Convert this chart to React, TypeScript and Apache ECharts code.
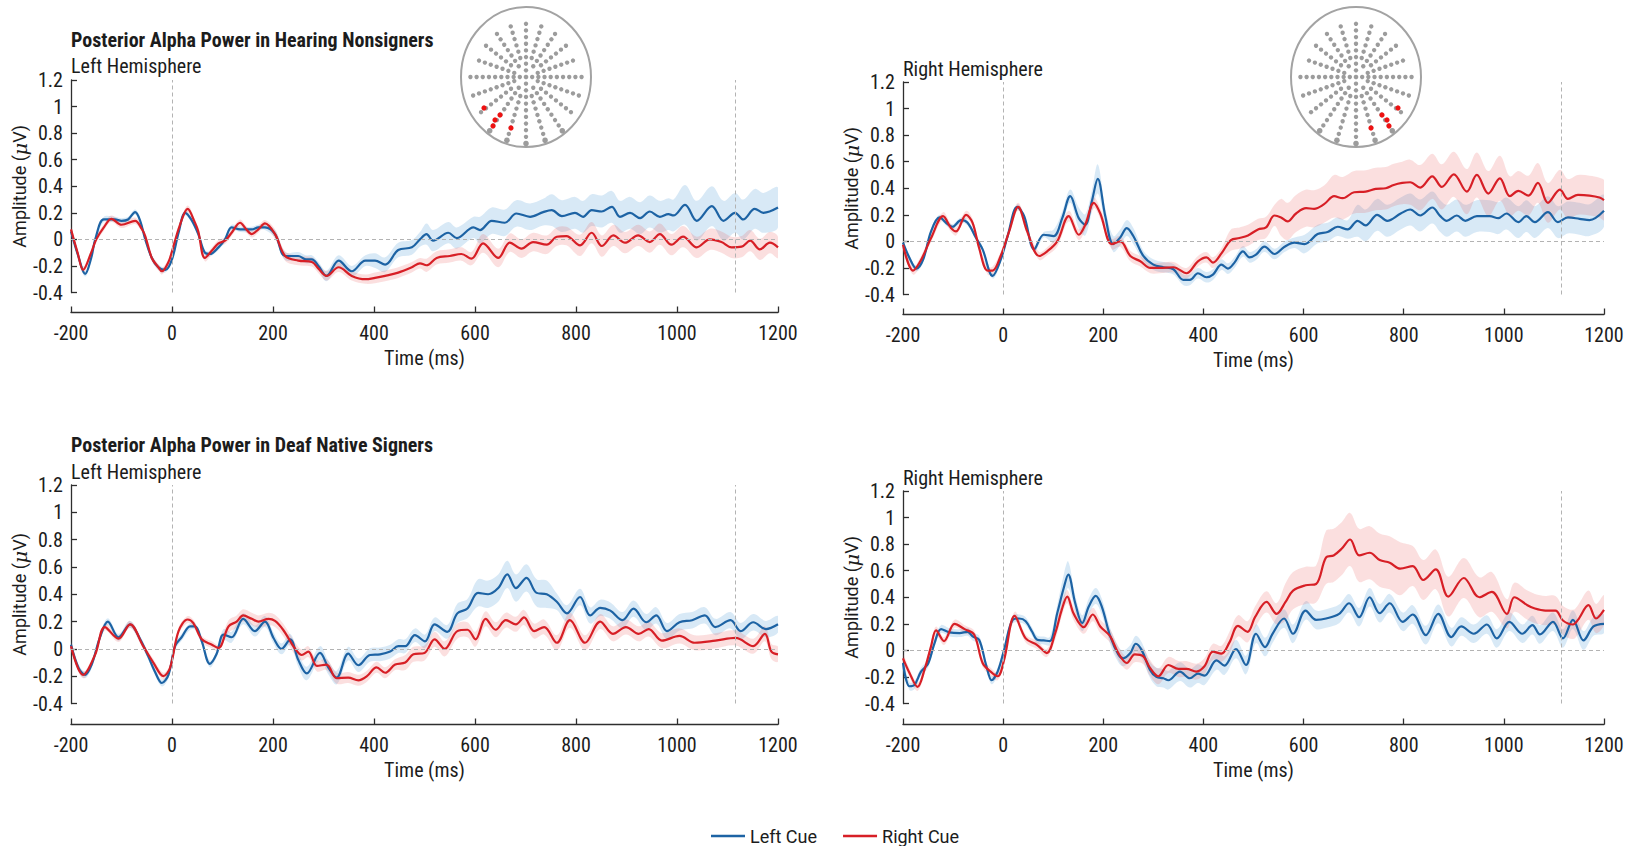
import React, { useEffect, useRef } from "react";
import * as echarts from "echarts";

type P = [number, number];

// ---------- axis settings ----------
const X_MIN = -200;
const X_MAX = 1200;
const X_STEP = 200;
const Y_MIN = -0.4;
const Y_MAX = 1.2;
const Y_STEP = 0.2;
const MARKER_TIMES = [0, 1115];
const SERIES_NAMES = ["Left Cue", "Right Cue"];

// ---------- Hearing nonsigners, left hemisphere ----------
const hearingLH_leftCue: P[] = [
  [-200, 0.06], [-186, -0.12], [-172, -0.26], [-160, -0.14], [-152, 0], [-135, 0.15], [-113, 0.15], [-100, 0.14],
  [-87, 0.15], [-73, 0.205], [-63, 0.14], [-53, 0], [-40, -0.14], [-27, -0.21], [-13, -0.23], [0, -0.15],
  [13, 0.05], [26, 0.2], [38, 0.15], [52, 0.04], [65, -0.1], [75, -0.11], [92, -0.06], [105, 0],
  [118, 0.09], [135, 0.075], [158, 0.075], [171, 0.09], [184, 0.09], [204, 0.04], [224, -0.125], [250, -0.125],
  [265, -0.15], [277, -0.15], [290, -0.2], [306, -0.275], [330, -0.16], [356, -0.24], [383, -0.16], [402, -0.16],
  [422, -0.19], [448, -0.08], [475, -0.06], [491, 0], [504, 0.04], [517, -0.01], [547, 0.05], [564, 0.01],
  [597, 0.09], [610, 0.07], [633, 0.14], [659, 0.125], [682, 0.195], [709, 0.17], [735, 0.205], [752, 0.22],
  [772, 0.175], [798, 0.2], [814, 0.17], [831, 0.22], [851, 0.21], [871, 0.245], [887, 0.17], [907, 0.2],
  [927, 0.16], [946, 0.21], [966, 0.17], [983, 0.19], [993, 0.18], [1016, 0.26], [1039, 0.14], [1069, 0.25],
  [1092, 0.14], [1115, 0.2], [1131, 0.15], [1154, 0.23], [1171, 0.2], [1200, 0.24],
];
const hearingLH_rightCue: P[] = [
  [-200, 0.075], [-187, -0.1], [-176, -0.23], [-160, -0.1], [-150, 0], [-135, 0.09], [-120, 0.155], [-100, 0.11],
  [-73, 0.14], [-60, 0.08], [-53, 0.025], [-40, -0.14], [-27, -0.21], [-20, -0.24], [-7, -0.17], [0, -0.09],
  [15, 0.1], [31, 0.23], [45, 0.13], [52, 0.06], [65, -0.14], [80, -0.08], [92, -0.03], [105, -0.01],
  [118, 0.05], [135, 0.125], [146, 0.08], [158, 0.04], [171, 0.075], [184, 0.12], [204, 0.04], [224, -0.125],
  [250, -0.16], [277, -0.17], [290, -0.22], [306, -0.275], [330, -0.21], [356, -0.275], [383, -0.3], [402, -0.29],
  [422, -0.275], [448, -0.25], [475, -0.21], [491, -0.18], [504, -0.195], [524, -0.14], [550, -0.125], [573, -0.11],
  [593, -0.145], [616, -0.03], [646, -0.14], [669, -0.025], [692, -0.07], [715, -0.02], [742, -0.04], [762, 0.02],
  [781, 0.025], [808, -0.045], [831, 0.05], [851, -0.05], [874, 0.03], [897, -0.025], [923, 0.03], [946, -0.02],
  [966, 0.04], [989, -0.04], [1012, 0.02], [1039, -0.06], [1065, 0], [1088, -0.02], [1108, -0.06], [1128, -0.055],
  [1145, -0.01], [1164, -0.075], [1184, -0.025], [1200, -0.06],
];
// half-width of the shaded band: [from time, half-width]
const hearingLH_leftCueSE: P[] = [[-200, 0.02], [200, 0.03], [300, 0.04], [400, 0.055], [500, 0.08], [600, 0.1], [750, 0.12], [1000, 0.15]];
const hearingLH_rightCueSE: P[] = [[-200, 0.025], [200, 0.035], [400, 0.04], [500, 0.05], [600, 0.07], [800, 0.08]];

// ---------- Hearing nonsigners, right hemisphere ----------
const hearingRH_leftCue: P[] = [
  [-200, -0.01], [-187, -0.125], [-173, -0.205], [-160, -0.14], [-144, 0.075], [-127, 0.18], [-111, 0.13], [-101, 0.11],
  [-84, 0.16], [-71, 0.14], [-54, 0.025], [-41, -0.06], [-21, -0.26], [-5, -0.14], [9, 0.04], [28, 0.26],
  [42, 0.19], [62, -0.06], [81, 0.05], [101, 0.04], [118, 0.175], [134, 0.34], [151, 0.175], [164, 0.125],
  [177, 0.3], [189, 0.47], [204, 0.19], [220, -0.02], [234, 0.03], [247, 0.1], [260, 0.04], [280, -0.11],
  [300, -0.175], [320, -0.195], [340, -0.21], [360, -0.29], [373, -0.29], [389, -0.24], [406, -0.27], [419, -0.25],
  [436, -0.175], [449, -0.205], [462, -0.16], [479, -0.075], [492, -0.12], [505, -0.1], [522, -0.04], [542, -0.095],
  [562, -0.04], [582, -0.01], [602, -0.02], [628, 0.055], [648, 0.07], [668, 0.11], [688, 0.09], [708, 0.155],
  [724, 0.12], [747, 0.2], [767, 0.155], [794, 0.21], [813, 0.24], [833, 0.195], [857, 0.255], [873, 0.19],
  [886, 0.155], [906, 0.195], [923, 0.155], [946, 0.19], [972, 0.19], [989, 0.175], [1005, 0.21], [1029, 0.145],
  [1045, 0.19], [1062, 0.145], [1088, 0.22], [1108, 0.145], [1128, 0.18], [1151, 0.17], [1171, 0.16], [1200, 0.23],
];
const hearingRH_rightCue: P[] = [
  [-200, -0.025], [-180, -0.22], [-164, -0.14], [-144, 0.025], [-120, 0.19], [-104, 0.1], [-94, 0.075], [-74, 0.2],
  [-61, 0.14], [-48, -0.05], [-31, -0.22], [-21, -0.22], [-5, -0.11], [12, 0.075], [30, 0.26], [48, 0.075],
  [72, -0.11], [88, -0.075], [108, 0], [131, 0.19], [151, 0.05], [164, 0.125], [181, 0.29], [194, 0.21],
  [217, -0.02], [234, 0], [254, -0.11], [274, -0.15], [294, -0.2], [313, -0.2], [340, -0.195], [366, -0.24],
  [389, -0.15], [406, -0.12], [419, -0.16], [436, -0.09], [455, 0.01], [472, 0.025], [489, 0.045], [509, 0.09],
  [525, 0.105], [542, 0.195], [555, 0.18], [568, 0.15], [585, 0.21], [605, 0.25], [621, 0.245], [641, 0.28],
  [661, 0.34], [678, 0.325], [701, 0.37], [724, 0.375], [744, 0.395], [764, 0.4], [780, 0.425], [797, 0.44],
  [813, 0.445], [833, 0.405], [857, 0.49], [876, 0.41], [900, 0.505], [926, 0.375], [946, 0.5], [969, 0.36],
  [992, 0.475], [1012, 0.34], [1029, 0.38], [1049, 0.345], [1068, 0.44], [1088, 0.29], [1112, 0.39], [1128, 0.32],
  [1148, 0.35], [1171, 0.345], [1191, 0.33], [1200, 0.31],
];
const hearingRH_leftCueSE: P[] = [[-200, 0.02], [100, 0.05], [150, 0.08], [180, 0.11], [200, 0.06], [280, 0.04], [600, 0.07], [700, 0.12]];
const hearingRH_rightCueSE: P[] = [[-200, 0.03], [100, 0.04], [450, 0.08], [550, 0.14], [650, 0.16], [800, 0.17], [1000, 0.15]];

// ---------- Deaf native signers, left hemisphere ----------
const deafLH_leftCue: P[] = [
  [-200, 0.03], [-185, -0.14], [-172, -0.19], [-159, -0.115], [-143, 0.08], [-127, 0.2], [-106, 0.085], [-83, 0.18],
  [-63, 0.07], [-47, -0.055], [-34, -0.165], [-20, -0.25], [-7, -0.19], [6, 0.02], [19, 0.085], [36, 0.165],
  [46, 0.165], [59, 0.055], [75, -0.11], [88, -0.04], [102, 0.105], [118, 0.085], [141, 0.22], [164, 0.13],
  [184, 0.2], [201, 0.08], [217, 0], [234, 0.07], [250, -0.08], [267, -0.18], [293, -0.03], [310, -0.14],
  [326, -0.21], [349, -0.035], [369, -0.12], [392, -0.045], [412, -0.04], [432, -0.02], [448, 0.02], [462, 0.02],
  [481, 0.1], [501, 0.055], [520, 0.18], [545, 0.125], [565, 0.26], [585, 0.295], [606, 0.41], [626, 0.4],
  [646, 0.445], [664, 0.545], [681, 0.445], [702, 0.52], [722, 0.41], [742, 0.4], [762, 0.345], [782, 0.26],
  [808, 0.38], [828, 0.245], [848, 0.3], [868, 0.28], [892, 0.21], [914, 0.295], [939, 0.195], [959, 0.245],
  [980, 0.13], [1005, 0.195], [1030, 0.21], [1055, 0.245], [1076, 0.16], [1106, 0.21], [1126, 0.13], [1151, 0.195],
  [1176, 0.145], [1200, 0.18],
];
const deafLH_rightCue: P[] = [
  [-200, 0.02], [-176, -0.19], [-152, -0.04], [-133, 0.16], [-106, 0.075], [-83, 0.18], [-57, 0.02], [-37, -0.1],
  [-17, -0.2], [-4, -0.14], [13, 0.13], [31, 0.215], [42, 0.19], [59, 0.07], [79, 0.03], [92, 0.007],
  [112, 0.165], [128, 0.2], [141, 0.245], [158, 0.22], [171, 0.2], [191, 0.22], [204, 0.205], [220, 0.14],
  [244, 0], [257, -0.045], [270, -0.02], [287, -0.125], [306, -0.115], [326, -0.215], [349, -0.21], [369, -0.23],
  [386, -0.2], [405, -0.135], [422, -0.175], [442, -0.115], [462, -0.1], [478, -0.04], [500, -0.03], [520, 0.07],
  [540, 0], [565, 0.13], [585, 0.14], [601, 0.07], [621, 0.22], [641, 0.14], [661, 0.21], [681, 0.18],
  [697, 0.23], [717, 0.13], [737, 0.16], [762, 0.045], [788, 0.21], [818, 0.045], [848, 0.2], [873, 0.11],
  [899, 0.16], [924, 0.11], [944, 0.145], [970, 0.06], [1005, 0.095], [1035, 0.045], [1076, 0.06], [1116, 0.08],
  [1151, 0.02], [1174, 0.11], [1187, -0.02], [1200, -0.04],
];
const deafLH_leftCueSE: P[] = [[-200, 0.025], [100, 0.04], [250, 0.05], [550, 0.07], [600, 0.1], [760, 0.06]];
const deafLH_rightCueSE: P[] = [[-200, 0.025], [100, 0.045], [250, 0.04], [450, 0.055]];

// ---------- Deaf native signers, right hemisphere ----------
const deafRH_leftCue: P[] = [
  [-200, -0.095], [-187, -0.27], [-177, -0.26], [-164, -0.16], [-150, -0.1], [-137, 0.055], [-124, 0.16], [-107, 0.135],
  [-87, 0.13], [-71, 0.14], [-61, 0.105], [-48, 0.08], [-34, -0.11], [-23, -0.225], [-11, -0.16], [2, 0.005],
  [19, 0.23], [32, 0.24], [45, 0.22], [58, 0.14], [68, 0.08], [81, 0.075], [93, 0.07], [108, 0.28],
  [121, 0.47], [130, 0.57], [144, 0.355], [158, 0.205], [171, 0.33], [185, 0.41], [197, 0.33], [214, 0.105],
  [230, -0.03], [240, -0.06], [254, -0.02], [265, 0.05], [277, 0], [293, -0.145], [306, -0.2], [320, -0.21],
  [330, -0.225], [353, -0.16], [373, -0.21], [389, -0.175], [402, -0.19], [426, -0.075], [442, -0.115], [465, 0.01],
  [485, -0.11], [505, 0.125], [523, 0.025], [538, 0.125], [561, 0.24], [579, 0.125], [604, 0.3], [625, 0.23],
  [645, 0.24], [671, 0.275], [691, 0.355], [711, 0.25], [732, 0.4], [752, 0.28], [772, 0.355], [798, 0.215],
  [818, 0.27], [844, 0.115], [869, 0.275], [895, 0.1], [915, 0.18], [940, 0.125], [966, 0.195], [986, 0.09],
  [1011, 0.215], [1037, 0.125], [1057, 0.19], [1072, 0.12], [1098, 0.215], [1118, 0.09], [1138, 0.23], [1159, 0.075],
  [1179, 0.18], [1200, 0.2],
];
const deafRH_rightCue: P[] = [
  [-200, -0.06], [-187, -0.17], [-171, -0.275], [-157, -0.145], [-144, 0.03], [-134, 0.15], [-118, 0.07], [-97, 0.2],
  [-77, 0.16], [-58, 0.12], [-41, -0.095], [-25, -0.16], [-11, -0.195], [2, -0.07], [23, 0.26], [45, 0.09],
  [68, 0.04], [87, -0.02], [104, 0.13], [117, 0.305], [128, 0.405], [141, 0.275], [161, 0.175], [179, 0.27],
  [194, 0.18], [214, 0.105], [230, -0.02], [247, -0.095], [263, -0.03], [280, -0.045], [293, -0.13], [310, -0.195],
  [330, -0.11], [350, -0.14], [366, -0.14], [386, -0.16], [402, -0.12], [419, -0.01], [436, -0.025], [452, 0.06],
  [469, 0.185], [488, 0.14], [503, 0.25], [526, 0.365], [546, 0.275], [564, 0.365], [579, 0.45], [604, 0.49],
  [625, 0.5], [645, 0.7], [660, 0.715], [676, 0.765], [693, 0.835], [711, 0.715], [732, 0.735], [752, 0.68],
  [772, 0.66], [793, 0.615], [818, 0.635], [839, 0.53], [864, 0.61], [889, 0.405], [920, 0.545], [951, 0.4],
  [976, 0.44], [1006, 0.275], [1021, 0.4], [1047, 0.34], [1062, 0.315], [1083, 0.3], [1103, 0.3], [1118, 0.225],
  [1138, 0.195], [1148, 0.23], [1169, 0.34], [1184, 0.24], [1200, 0.305],
];
const deafRH_leftCueSE: P[] = [[-200, 0.03], [100, 0.06], [120, 0.1], [140, 0.06], [300, 0.07]];
const deafRH_rightCueSE: P[] = [[-200, 0.03], [100, 0.05], [250, 0.06], [450, 0.08], [550, 0.14], [640, 0.2], [800, 0.15], [1000, 0.11]];

// ---------- styles ----------
const BLUE = "#1d63a4";
const RED = "#d71f26";
const BLUE_BAND = "rgba(60,145,210,0.2)";
const RED_BAND = "rgba(235,80,80,0.18)";
const COND = "'Roboto Condensed', 'Liberation Sans Narrow', 'DejaVu Sans Condensed', 'Arial Narrow', Roboto, sans-serif";
const SANS = "Roboto, 'Noto Sans', 'Liberation Sans', sans-serif";
const TEXT = "#1c1c1c";
const AXIS = "#2e2e2e";
const FS = 20;

const panels = [
  { grid: { left: 71, top: 80, width: 707, height: 212.5 }, xOffset: 20, left: hearingLH_leftCue, leftSE: hearingLH_leftCueSE, right: hearingLH_rightCue, rightSE: hearingLH_rightCueSE },
  { grid: { left: 903, top: 82, width: 701, height: 212.5 }, xOffset: 20, left: hearingRH_leftCue, leftSE: hearingRH_leftCueSE, right: hearingRH_rightCue, rightSE: hearingRH_rightCueSE },
  { grid: { left: 71, top: 485, width: 707, height: 218.5 }, xOffset: 21, left: deafLH_leftCue, leftSE: deafLH_leftCueSE, right: deafLH_rightCue, rightSE: deafLH_rightCueSE },
  { grid: { left: 903, top: 491, width: 701, height: 212.5 }, xOffset: 21, left: deafRH_leftCue, leftSE: deafRH_leftCueSE, right: deafRH_rightCue, rightSE: deafRH_rightCueSE },
];

const texts = [
  { x: 71, y: 40, text: "Posterior Alpha Power in Hearing Nonsigners", bold: true },
  { x: 71, y: 65.5, text: "Left Hemisphere", bold: false },
  { x: 903, y: 69, text: "Right Hemisphere", bold: false },
  { x: 71, y: 444.5, text: "Posterior Alpha Power in Deaf Native Signers", bold: true },
  { x: 71, y: 471.5, text: "Left Hemisphere", bold: false },
  { x: 903, y: 478, text: "Right Hemisphere", bold: false },
];

// highlighted electrodes (offsets within the head icon), left hemisphere
const redElectrodesLH: P[] = [[-42, 31], [-26, 38], [-31, 43], [-33, 49], [-15, 51]];

function seAt(steps: P[], t: number) {
  let w = steps[0][1];
  for (const [s, v] of steps) if (t >= s) w = v;
  return w;
}

function bandSeries(idx: number, mean: P[], steps: P[], color: string) {
  const upper = mean.map(([t, v]) => [t, v + seAt(steps, t)]);
  const lower = mean.map(([t, v]) => [t, v - seAt(steps, t)]);
  const ring = upper.concat(lower.slice().reverse());
  return {
    type: "custom",
    xAxisIndex: idx,
    yAxisIndex: idx,
    silent: true,
    z: 1,
    clip: true,
    data: [mean[0]],
    renderItem: (_p: any, api: any) => ({
      type: "polygon",
      shape: { points: ring.map((p) => api.coord(p)), smooth: 0.35 },
      style: { fill: color, stroke: "none" },
    }),
  };
}

function headIcon(cx: number, cy: number, mirror: boolean) {
  const rx = 65;
  const ry = 70;
  const els: any[] = [];
  els.push({ type: "ellipse", shape: { cx, cy, rx, ry }, style: { fill: "transparent", stroke: "#a3a3a3", lineWidth: 2 }, z: 20 });
  const dot = (x: number, y: number, r: number, c: string) =>
    els.push({ type: "circle", shape: { cx: x, cy: y, r }, style: { fill: c }, z: 21 });
  dot(cx, cy, 2.3, "#9c9c9c");
  for (let s = 0; s < 20; s++) {
    const deg = s * 18;
    const a = (deg * Math.PI) / 180;
    const dx = Math.sin(a);
    const dy = -Math.cos(a);
    const start = s % 5 === 0 ? 1 : s % 2 === 0 ? 2 : 3;
    let end = 8;
    if (deg >= 144 && deg <= 216) end = 10;
    else if (deg >= 90 && deg <= 270) end = 9;
    for (let k = start; k <= end; k++) {
      const r = Math.min(k * 0.095, 0.985);
      const big = k === 10;
      dot(cx + dx * r * rx, cy + dy * r * ry, big ? 2.8 : 2.2, "#9c9c9c");
    }
  }
  for (const [ox, oy] of redElectrodesLH) dot(cx + (mirror ? -ox : ox), cy + oy, 2.6, "#ee1111");
  return els;
}

function buildOption() {
  const grid: any[] = [];
  const xAxis: any[] = [];
  const yAxis: any[] = [];
  const series: any[] = [];
  panels.forEach((p, i) => {
    grid.push({ ...p.grid, containLabel: false });
    xAxis.push({
      gridIndex: i,
      type: "value",
      min: X_MIN,
      max: X_MAX,
      interval: X_STEP,
      offset: p.xOffset,
      axisLine: { show: true, onZero: false, lineStyle: { color: AXIS, width: 1.3 } },
      axisTick: { show: true, inside: true, length: 6, lineStyle: { color: AXIS, width: 1.3 } },
      axisLabel: { margin: 10, fontSize: FS, fontFamily: COND, color: TEXT, formatter: (v: number) => String(v) },
      splitLine: { show: false },
      name: "Time (ms)",
      nameLocation: "middle",
      nameGap: 35,
      nameTextStyle: { fontSize: FS, fontFamily: COND, color: TEXT },
    });
    yAxis.push({
      gridIndex: i,
      type: "value",
      min: Y_MIN,
      max: Y_MAX,
      interval: Y_STEP,
      axisLine: { show: true, onZero: false, lineStyle: { color: AXIS, width: 1.3 } },
      axisTick: { show: true, inside: true, length: 6, lineStyle: { color: AXIS, width: 1.3 } },
      axisLabel: {
        margin: 8,
        fontSize: FS,
        fontFamily: COND,
        color: TEXT,
        formatter: (v: number) => String(Math.round(v * 10) / 10),
      },
      splitLine: { show: false },
      name: "{a|Amplitude (}{m|μ}{a|V)}",
      nameLocation: "middle",
      nameGap: 38,
      nameTextStyle: {
        rich: {
          a: { fontSize: 18, fontFamily: SANS, color: TEXT },
          m: { fontSize: 19, fontFamily: "'DejaVu Serif', 'Liberation Serif', serif", fontStyle: "italic", color: TEXT },
        },
      },
    });
    series.push({
      type: "line",
      name: "",
      xAxisIndex: i,
      yAxisIndex: i,
      data: [],
      silent: true,
      z: 0,
      markLine: {
        silent: true,
        symbol: ["none", "none"],
        label: { show: false },
        lineStyle: { color: "#b3b3b3", type: [4, 3], width: 1 },
        data: [...MARKER_TIMES.map((t) => ({ xAxis: t })), { yAxis: 0 }],
      },
    });
    series.push(bandSeries(i, p.left, p.leftSE, BLUE_BAND));
    series.push(bandSeries(i, p.right, p.rightSE, RED_BAND));
    series.push({
      type: "line",
      name: SERIES_NAMES[0],
      xAxisIndex: i,
      yAxisIndex: i,
      data: p.left,
      symbol: "none",
      smooth: 0.35,
      silent: true,
      z: 3,
      lineStyle: { color: BLUE, width: 2.2 },
      itemStyle: { color: BLUE },
    });
    series.push({
      type: "line",
      name: SERIES_NAMES[1],
      xAxisIndex: i,
      yAxisIndex: i,
      data: p.right,
      symbol: "none",
      smooth: 0.35,
      silent: true,
      z: 4,
      lineStyle: { color: RED, width: 2.2 },
      itemStyle: { color: RED },
    });
  });

  const graphic: any[] = texts.map((t) => ({
    type: "text",
    x: t.x,
    y: t.y,
    silent: true,
    style: {
      text: t.text,
      font: `${t.bold ? "bold " : ""}${FS}px ${COND}`,
      fill: TEXT,
      align: "left",
      verticalAlign: "middle",
    },
  }));
  graphic.push(...headIcon(526, 77, false));
  graphic.push(...headIcon(1356, 77, true));

  return {
    animation: false,
    backgroundColor: "#ffffff",
    grid,
    xAxis,
    yAxis,
    series,
    graphic,
    legend: {
      data: SERIES_NAMES,
      left: 706,
      top: 822,
      icon: "rect",
      itemWidth: 34,
      itemHeight: 2.5,
      itemGap: 26,
      selectedMode: false,
      textStyle: { fontSize: 18, fontFamily: SANS, color: TEXT },
    },
  };
}

export default function App() {
  const ref = useRef<HTMLDivElement>(null);
  useEffect(() => {
    if (!ref.current) return;
    const chart = echarts.init(ref.current, undefined, { renderer: "svg" });
    chart.setOption(buildOption() as any);
    return () => chart.dispose();
  }, []);
  return (
    <div
      ref={ref}
      style={{ position: "absolute", left: 0, top: 0, width: 1632, height: 846, background: "#fff" }}
    />
  );
}
